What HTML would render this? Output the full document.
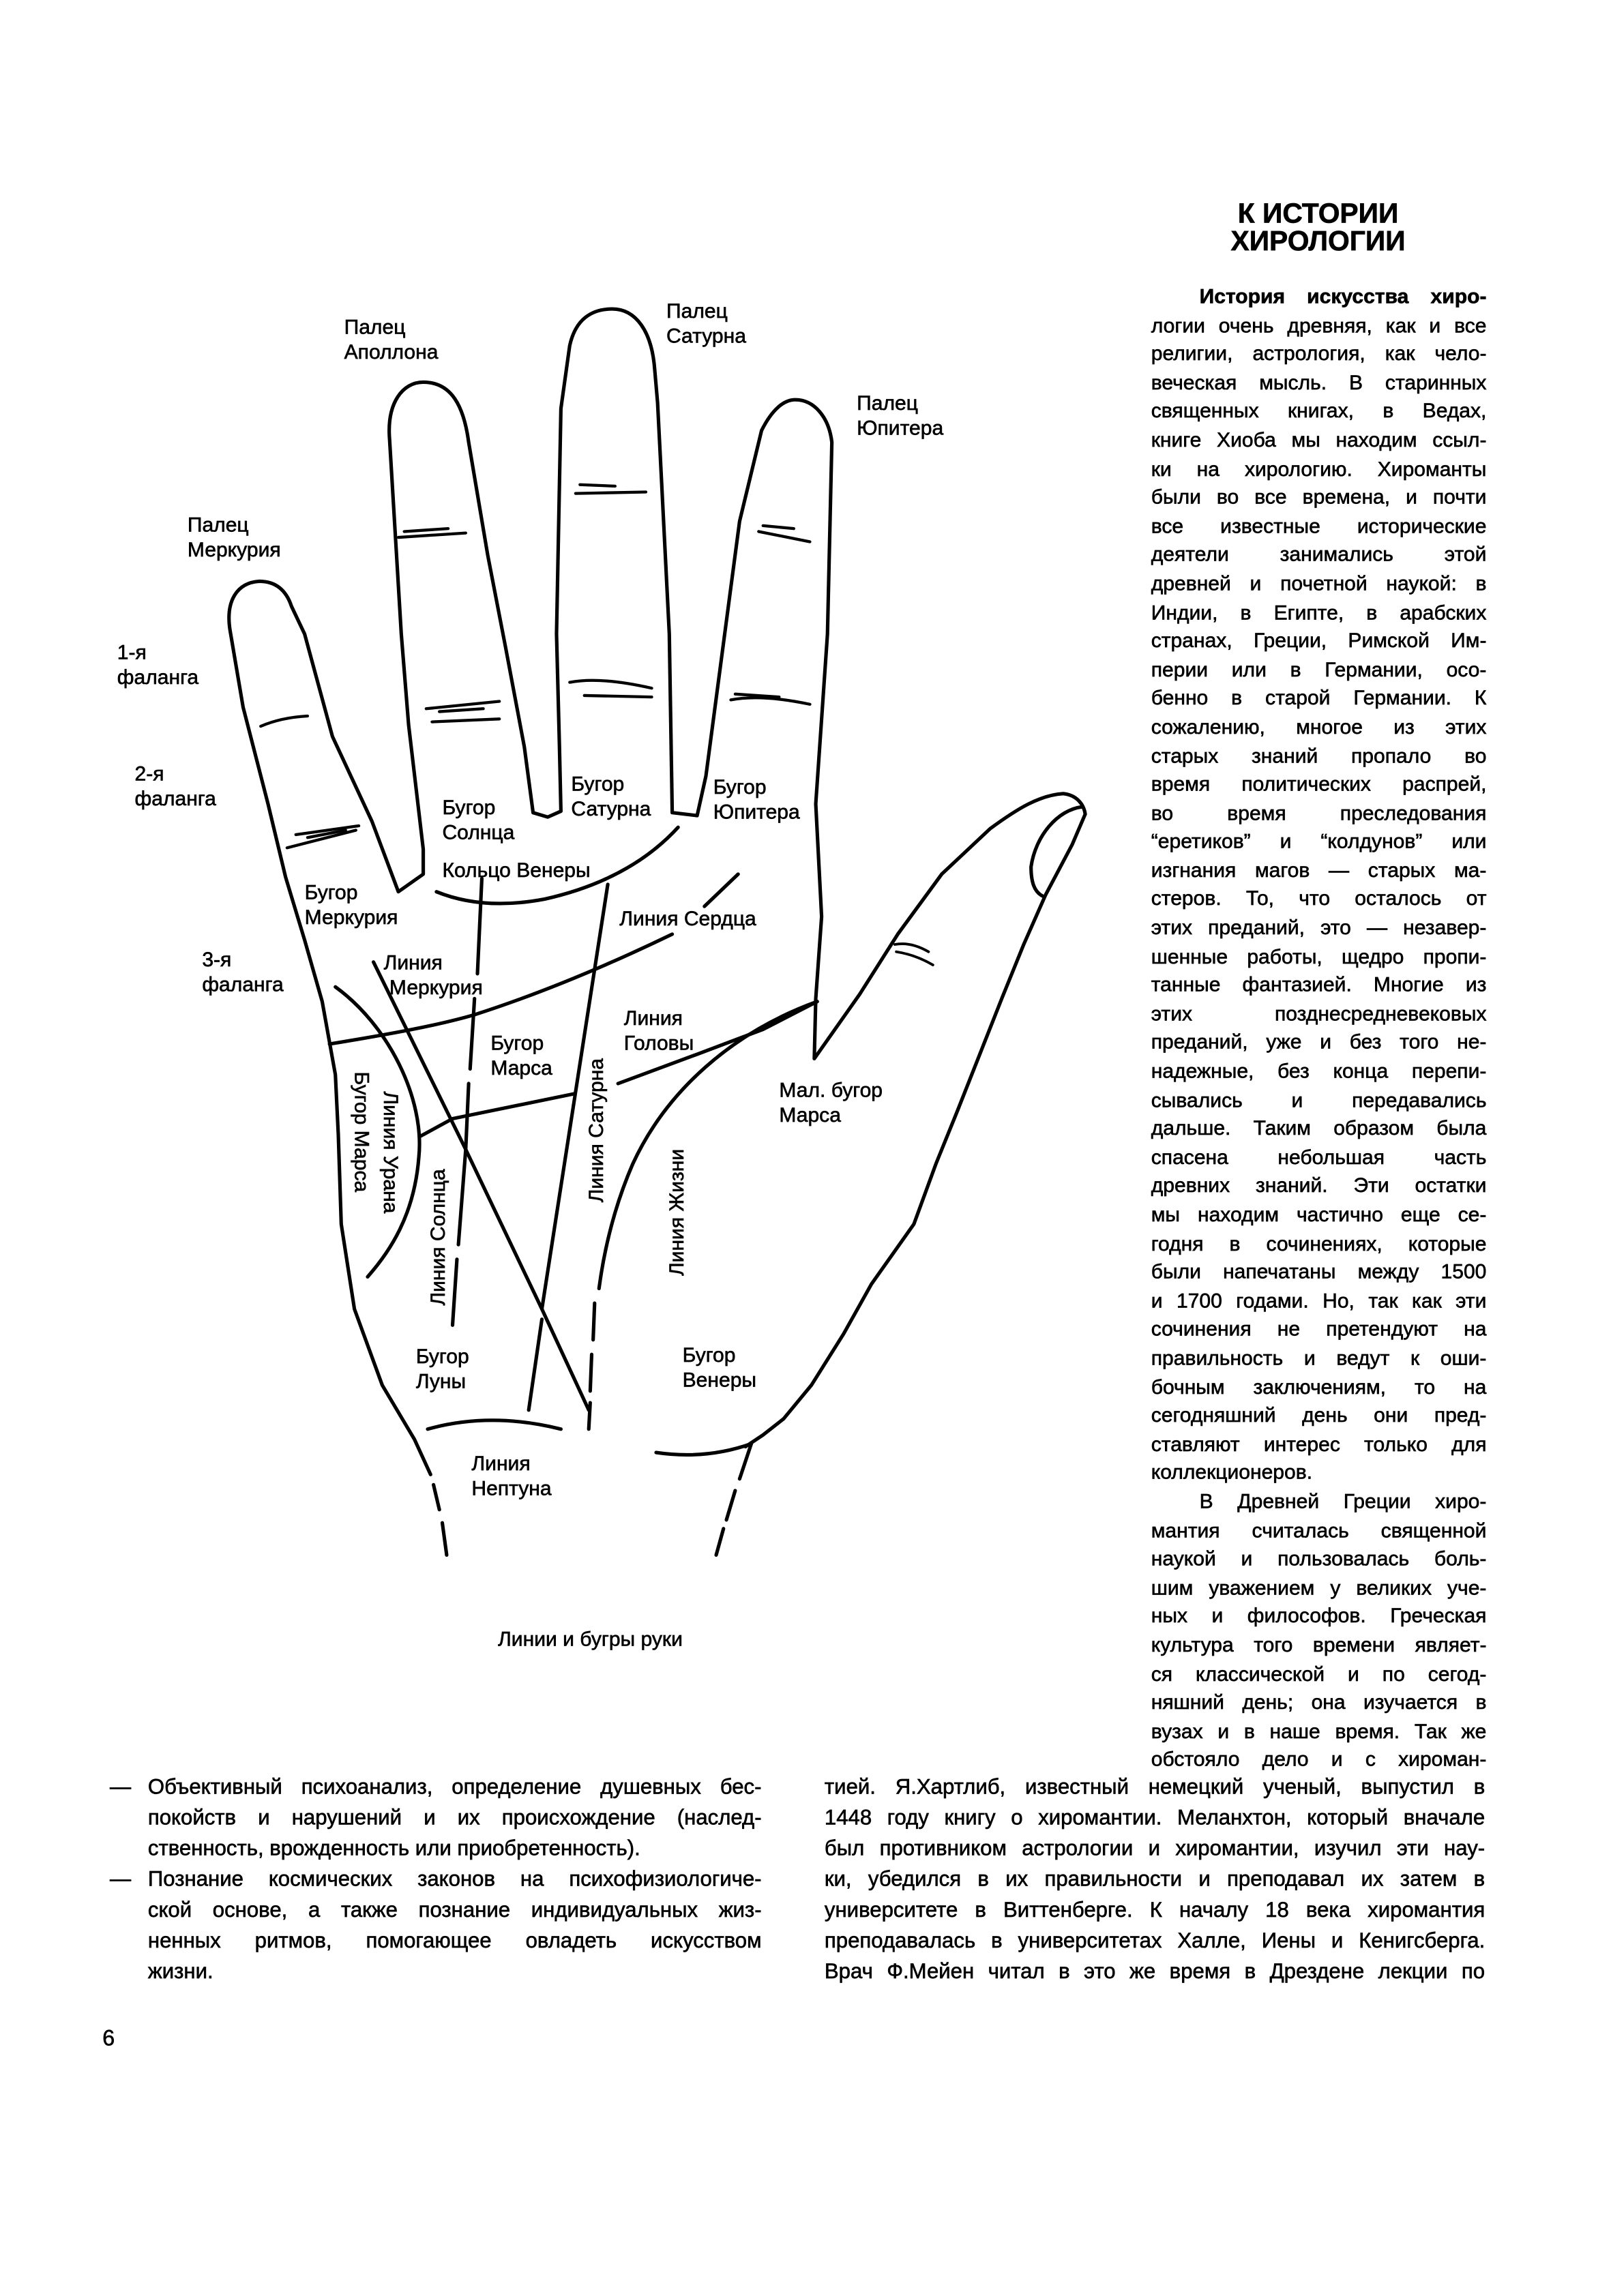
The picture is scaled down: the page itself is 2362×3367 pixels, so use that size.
<!DOCTYPE html>
<html><head><meta charset="utf-8">
<style>
html,body{margin:0;padding:0;background:#fff;}
body{width:2362px;height:3366px;overflow:hidden;position:relative;}
#pg{position:absolute;left:0;top:0;width:1100px;height:1567.6px;transform:scale(2.14727);transform-origin:0 0;font-family:"Liberation Sans",sans-serif;color:#000;-webkit-text-stroke:0.3px #000;}
.lb{position:absolute;font-size:14px;line-height:17px;white-space:nowrap;}
.col{position:absolute;font-size:14px;}
.j{display:flex;justify-content:space-between;white-space:nowrap;}
.l{white-space:nowrap;}
svg{position:absolute;left:0;top:0;}
svg text{stroke:#000;stroke-width:0.3px;}
</style></head><body>
<div id="pg">
<svg width="1100" height="1568" viewBox="0 0 1100 1568">
<g fill="none" stroke="#000" stroke-width="2.4" stroke-linejoin="round" stroke-linecap="round">
<path d="M231,775 L229,734 L220,684 L208,642 L195,599 L183,549 L166,483 L157,430 C154,410 162,398 177,397 C190,397 196,405 199,414 L208,433 L227,503 L254,561 L272,609 L289,597 L289,580 L279,495 L274,433 L266,300 C264,275 275,261 289,261 C305,261 316,272 320,302 L333,379 L345,441 L358,510 L364,555 L374,558 L383,554 L382,510 L380,433 L383,279 L389,236 C393,218 404,211 418,211 C434,211 445,226 447,252 L449,275 L457,433 L459,555 L476,557 L482,530 L505,356 L520,294 C527,280 535,273 543,273 C556,273 566,285 568,302 L565,433 L557,549 L561,626 L557,682 L556,723 L587,679 L613,638 L643,597 L676,566 C695,552 710,543 726,542 C735,543 740,549 741,556 L732,577 L714,611 L699,645 L684,682 L669,720 L654,758 L639,795 L624,836 L595,877 L576,911 L554,946 L535,969 L521,980 L509,988"/>
<path d="M231,775 L233,836 L242,894 L261,946 L283,983 L294,1007"/>
<path d="M296,1014 L300,1031" /><path d="M302,1040 L305,1062"/>
<path d="M513,986 L505,1010"/><path d="M502,1018 L496,1038"/><path d="M494,1044 L489,1062"/>
<path d="M448,992 Q482,997 513,986"/>
<path d="M739,551 C722,553 707,571 704,592 C704,602 706,609 712,612"/>
<path d="M611,645 Q622,643 634,650" stroke-width="1.8"/><path d="M612,650 Q625,652 637,659" stroke-width="1.8"/>
<g stroke-width="2">
<path d="M178,496 Q192,490 210,489"/>
<path d="M202,570 L245,564"/><path d="M196,579 L243,567"/><path d="M210,572 L236,567"/>
<path d="M272,367 L318,364"/><path d="M276,363 L306,361"/>
<path d="M291,484 L341,479"/><path d="M295,493 L341,491"/><path d="M300,486 L330,484"/>
<path d="M393,337 L441,336"/><path d="M396,331 L420,332"/>
<path d="M389,466 Q410,462 445,470"/><path d="M399,475 L445,476"/>
<path d="M518,363 L553,370"/><path d="M521,359 L542,361"/>
<path d="M499,478 Q520,474 553,481"/><path d="M502,474 L532,476"/>
</g>
<path d="M459,638 C430,652 380,675 324,693 C300,700 268,706 225,713"/>
<path d="M298,609 Q330,622 372,614 Q430,601 463,565"/>
<path d="M504,597 L481,619"/>
<path d="M329,600 L326,665"/><path d="M324,682 L321,730"/><path d="M320,740 L318,785 L313,850"/><path d="M312,860 L309,905"/>
<path d="M415,604 L370,894"/>
<path d="M255,657 L318,785 L370,894 L402,963"/>
<path d="M370,901 L361,963"/>
<path d="M229,674 C265,700 290,750 286,790 C283,830 266,855 251,872"/>
<path d="M287,776 L309,764 L392,747"/>
<path d="M422,740 L476,720 L521,703 L558,684"/>
<path d="M558,684 C500,705 455,745 432,795 C416,832 411,865 409,880"/>
<path d="M406,890 L405,915"/><path d="M404,925 L403,950"/><path d="M403,958 L402,976"/>
<path d="M292,976 Q335,964 383,976"/>
</g>
<g font-family="Liberation Sans, sans-serif" font-size="14" fill="#000" text-anchor="middle">
<text transform="translate(246,773) rotate(90)" dominant-baseline="middle">Бугор Марса</text>
<text transform="translate(266,787) rotate(90)" dominant-baseline="middle">Линия Урана</text>
<text transform="translate(300,845) rotate(-90)" dominant-baseline="middle">Линия Солнца</text>
<text transform="translate(408,772) rotate(-90)" dominant-baseline="middle">Линия Сатурна</text>
<text transform="translate(463,828) rotate(-90)" dominant-baseline="middle">Линия Жизни</text>
</g>
</svg>

<div class="lb" style="left:455px;top:204px">Палец<br>Сатурна</div>
<div class="lb" style="left:235px;top:215px">Палец<br>Аполлона</div>
<div class="lb" style="left:585px;top:267px">Палец<br>Юпитера</div>
<div class="lb" style="left:128px;top:350px">Палец<br>Меркурия</div>
<div class="lb" style="left:80px;top:437px">1-я<br>фаланга</div>
<div class="lb" style="left:92px;top:520px">2-я<br>фаланга</div>
<div class="lb" style="left:390px;top:527px">Бугор<br>Сатурна</div>
<div class="lb" style="left:487px;top:529px">Бугор<br>Юпитера</div>
<div class="lb" style="left:302px;top:543px">Бугор<br>Солнца</div>
<div class="lb" style="left:302px;top:586px">Кольцо Венеры</div>
<div class="lb" style="left:208px;top:601px">Бугор<br>Меркурия</div>
<div class="lb" style="left:423px;top:619px">Линия Сердца</div>
<div class="lb" style="left:138px;top:647px">3-я<br>фаланга</div>
<div class="lb" style="left:262px;top:649px">Линия<br>&nbsp;Меркурия</div>
<div class="lb" style="left:426px;top:687px">Линия<br>Головы</div>
<div class="lb" style="left:335px;top:704px">Бугор<br>Марса</div>
<div class="lb" style="left:532px;top:736px">Мал. бугор<br>Марса</div>
<div class="lb" style="left:284px;top:918px">Бугор<br>Луны</div>
<div class="lb" style="left:466px;top:917px">Бугор<br>Венеры</div>
<div class="lb" style="left:322px;top:991px">Линия<br>Нептуна</div>
<div class="lb" style="left:340px;top:1111px">Линии и бугры руки</div>

<div style="position:absolute;left:790px;width:220px;top:137px;text-align:center;font-weight:bold;font-size:19px;line-height:19px;">К ИСТОРИИ<br>ХИРОЛОГИИ</div>

<div class="col" style="left:786px;top:193px;width:229px;line-height:19.6px;">
<div class="j" style="padding-left:33px;font-weight:bold">История искусства хиро-</div>
<div class="j">логии очень древняя, как и все</div>
<div class="j">религии, астрология, как чело-</div>
<div class="j">веческая мысль. В старинных</div>
<div class="j">священных книгах, в Ведах,</div>
<div class="j">книге Хиоба мы находим ссыл-</div>
<div class="j">ки на хирологию. Хироманты</div>
<div class="j">были во все времена, и почти</div>
<div class="j">все известные исторические</div>
<div class="j">деятели занимались этой</div>
<div class="j">древней и почетной наукой: в</div>
<div class="j">Индии, в Египте, в арабских</div>
<div class="j">странах, Греции, Римской Им-</div>
<div class="j">перии или в Германии, осо-</div>
<div class="j">бенно в старой Германии. К</div>
<div class="j">сожалению, многое из этих</div>
<div class="j">старых знаний пропало во</div>
<div class="j">время политических распрей,</div>
<div class="j">во время преследования</div>
<div class="j">“еретиков” и “колдунов” или</div>
<div class="j">изгнания магов — старых ма-</div>
<div class="j">стеров. То, что осталось от</div>
<div class="j">этих преданий, это — незавер-</div>
<div class="j">шенные работы, щедро пропи-</div>
<div class="j">танные фантазией. Многие из</div>
<div class="j">этих позднесредневековых</div>
<div class="j">преданий, уже и без того не-</div>
<div class="j">надежные, без конца перепи-</div>
<div class="j">сывались и передавались</div>
<div class="j">дальше. Таким образом была</div>
<div class="j">спасена небольшая часть</div>
<div class="j">древних знаний. Эти остатки</div>
<div class="j">мы находим частично еще се-</div>
<div class="j">годня в сочинениях, которые</div>
<div class="j">были напечатаны между 1500</div>
<div class="j">и 1700 годами. Но, так как эти</div>
<div class="j">сочинения не претендуют на</div>
<div class="j">правильность и ведут к оши-</div>
<div class="j">бочным заключениям, то на</div>
<div class="j">сегодняшний день они пред-</div>
<div class="j">ставляют интерес только для</div>
<div class="l">коллекционеров.</div>
<div class="j" style="padding-left:33px">В Древней Греции хиро-</div>
<div class="j">мантия считалась священной</div>
<div class="j">наукой и пользовалась боль-</div>
<div class="j">шим уважением у великих уче-</div>
<div class="j">ных и философов. Греческая</div>
<div class="j">культура того времени являет-</div>
<div class="j">ся классической и по сегод-</div>
<div class="j">няшний день; она изучается в</div>
<div class="j">вузах и в наше время. Так же</div>
<div class="j">обстояло дело и с хироман-</div>
</div>

<div class="col" style="left:563px;top:1210.5px;width:451px;line-height:21px;font-size:14.5px;">
<div class="j">тией. Я.Хартлиб, известный немецкий ученый, выпустил в</div>
<div class="j">1448 году книгу о хиромантии. Меланхтон, который вначале</div>
<div class="j">был противником астрологии и хиромантии, изучил эти нау-</div>
<div class="j">ки, убедился в их правильности и преподавал их затем в</div>
<div class="j">университете в Виттенберге. К началу 18 века хиромантия</div>
<div class="j">преподавалась в университетах Халле, Иены и Кенигсберга.</div>
<div class="j">Врач Ф.Мейен читал в это же время в Дрездене лекции по</div>
</div>

<div class="col" style="left:75px;top:1210.5px;width:20px;line-height:21px;font-size:14.5px;">—<br><br><br>—</div>
<div class="col" style="left:101px;top:1210.5px;width:419px;line-height:21px;font-size:14.5px;">
<div class="j">Объективный психоанализ, определение душевных бес-</div>
<div class="j">покойств и нарушений и их происхождение (наслед-</div>
<div class="l">ственность, врожденность или приобретенность).</div>
<div class="j">Познание космических законов на психофизиологиче-</div>
<div class="j">ской основе, а также познание индивидуальных жиз-</div>
<div class="j">ненных ритмов, помогающее овладеть искусством</div>
<div class="l">жизни.</div>
</div>

<div class="lb" style="left:70px;top:1384px;font-size:15px;">6</div>
</div>
<script>
document.querySelectorAll('.j').forEach(function(d){
  var w=d.textContent.trim().split(/\s+/);
  d.innerHTML=w.map(function(x){return '<span>'+x+'</span>';}).join('');
});
</script>
</body></html>
